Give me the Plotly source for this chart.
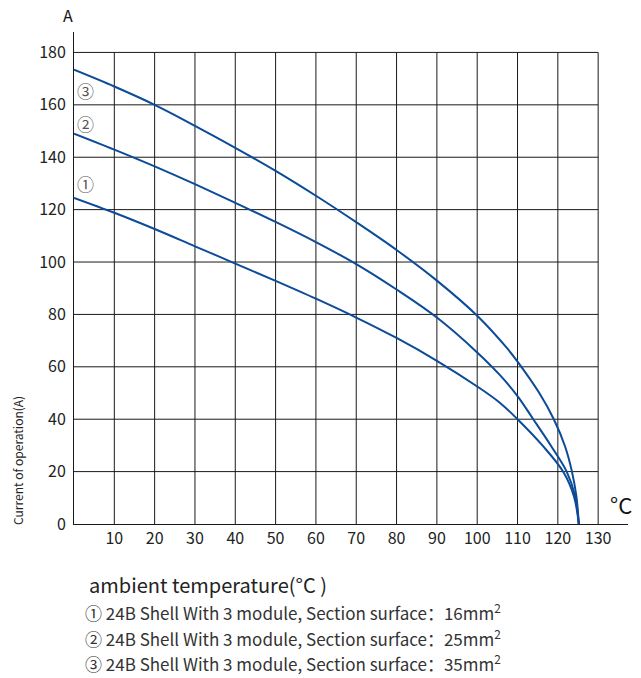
import plotly.graph_objects as go

# ---- data ----
x_ticks = [10, 20, 30, 40, 50, 60, 70, 80, 90, 100, 110, 120, 130]
y_ticks = [0, 20, 40, 60, 80, 100, 120, 140, 160, 180]

c1_x = [0, 10, 20, 30, 40, 50, 60, 70, 80, 90, 100, 105.6, 110, 116.4, 121.3, 124, 125.2]
c1_y = [124.5, 118.8, 112.6, 106.0, 99.4, 92.8, 86.0, 78.8, 71.0, 62.3, 52.5, 46.3, 40.0, 29.6, 20.0, 10.5, 0]

c2_x = [0, 10, 20, 30, 40, 50, 60, 70, 80, 90, 100, 105.6, 110, 113.9, 118.4, 122.2, 124.3, 125.2]
c2_y = [149.0, 142.9, 136.5, 129.7, 122.6, 115.3, 107.6, 99.2, 89.5, 78.8, 65.5, 56.9, 48.8, 40.0, 29.6, 20.0, 10.5, 0]

c3_x = [0, 10, 20, 30, 40, 50, 60, 70, 80, 90, 100, 107.3, 110, 115.4, 119, 121.8, 123.5, 124.6, 125.2]
c3_y = [173.4, 167.0, 160.0, 152.0, 143.6, 134.8, 125.3, 115.2, 104.6, 92.9, 79.5, 67.3, 62.0, 50.0, 40.0, 29.6, 20.0, 10.5, 0]

curve_labels = ["①", "②", "③"]
label_y = [129.8, 152.7, 165.3]
label_x = 2.9

legend_title = "ambient temperature(°C )"
legend_lines = [
    "① 24B Shell With 3 module, Section surface：16mm<sup>2</sup>",
    "② 24B Shell With 3 module, Section surface：25mm<sup>2</sup>",
    "③ 24B Shell With 3 module, Section surface：35mm<sup>2</sup>",
]

FONT = "Noto Sans CJK SC"
NARROW = "Liberation Sans Narrow, Arial Narrow, Noto Sans CJK SC, sans-serif"
LINE_COLOR = "#0b4b98"
GRID_COLOR = "#1a1a1a"
X_MAX = 130
Y_MAX = 180

fig = go.Figure()

for xs, ys in [(c1_x, c1_y), (c2_x, c2_y), (c3_x, c3_y)]:
    fig.add_trace(go.Scatter(
        x=xs, y=ys, mode="lines",
        line=dict(color=LINE_COLOR, width=2, shape="spline", smoothing=1.0),
        hoverinfo="skip", showlegend=False,
    ))

# grid lines limited to the 0..130 x 0..180 box
for xv in x_ticks:
    fig.add_shape(type="line", x0=xv, x1=xv, y0=0, y1=Y_MAX,
                  line=dict(color=GRID_COLOR, width=1), layer="below")
for yv in y_ticks[1:]:
    fig.add_shape(type="line", x0=0, x1=X_MAX, y0=yv, y1=yv,
                  line=dict(color=GRID_COLOR, width=1), layer="below")

for lab, ly in zip(curve_labels, label_y):
    fig.add_annotation(x=label_x, y=ly, text=lab, showarrow=False,
                       font=dict(family=FONT, size=17, color="#555555"))

# axis unit labels
fig.add_annotation(xref="paper", yref="paper", x=-0.01, y=1.0, yanchor="bottom",
                   xanchor="center", text="A", showarrow=False, yshift=3,
                   font=dict(family=FONT, size=16, color="#111111"))
fig.add_annotation(xref="paper", yref="paper", x=1.0, y=0.0, xanchor="center",
                   yanchor="bottom", text="°C", showarrow=False, xshift=-7, yshift=2,
                   font=dict(family=FONT, size=22, color="#111111"))

# y axis title
fig.add_annotation(xref="paper", yref="paper", x=-0.102, y=0.0, xanchor="center",
                   yanchor="bottom", text="Current of operation(A)", textangle=-90,
                   showarrow=False, yshift=-3,
                   font=dict(family=NARROW, size=12, color="#222222"))

# legend text below
fig.add_annotation(xref="paper", yref="paper", x=0.023, y=-0.123, xanchor="left",
                   yanchor="middle", text=legend_title, showarrow=False,
                   font=dict(family=FONT, size=20, color="#222222"))
for i, t in enumerate(legend_lines):
    fig.add_annotation(xref="paper", yref="paper", x=0.0165, y=-0.179 - i * 0.0518,
                       xanchor="left", yanchor="middle", text=t, showarrow=False,
                       font=dict(family=FONT, size=17, color="#333333"))

fig.update_layout(
    width=641, height=678,
    margin=dict(l=74, r=13, t=32, b=154),
    paper_bgcolor="white", plot_bgcolor="white",
    font=dict(family=FONT, size=13, color="#222222"),
    xaxis=dict(range=[0, 137.4], tickvals=x_ticks, ticktext=[str(v) for v in x_ticks],
               showgrid=False, zeroline=False, showline=True, linecolor="#1a1a1a",
               linewidth=1, ticks="", tickfont=dict(family=NARROW, size=16, color="#222222"),
               fixedrange=True),
    yaxis=dict(range=[0, 187.8], tickvals=y_ticks, ticktext=[str(v) for v in y_ticks],
               showgrid=False, zeroline=False, showline=True, linecolor="#1a1a1a",
               linewidth=1, ticks="", ticklabelstandoff=4,
               tickfont=dict(family=NARROW, size=16, color="#222222"), fixedrange=True),
)

fig.write_html("out.html", config={"displayModeBar": False},
               post_script="document.body.style.margin='0px';")
